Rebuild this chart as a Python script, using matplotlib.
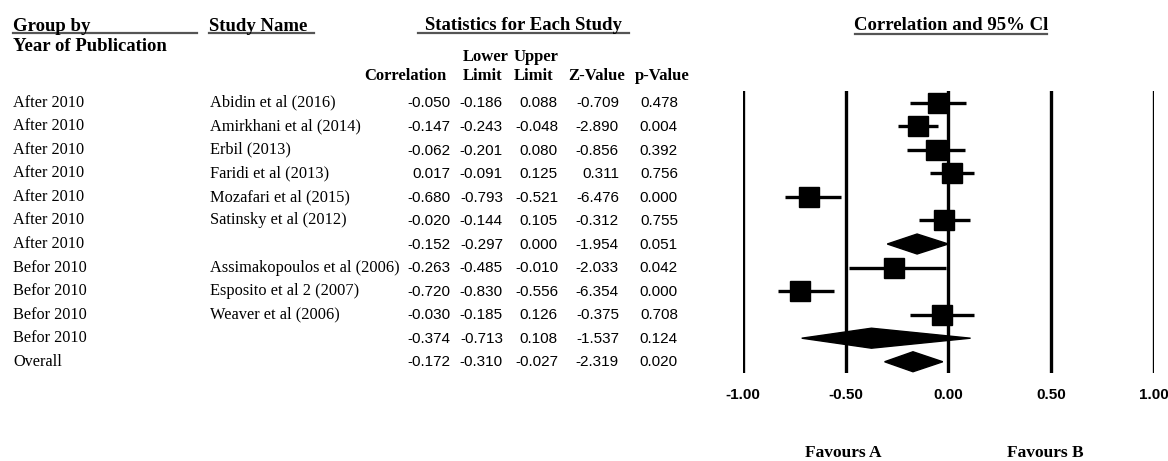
import matplotlib
matplotlib.use("Agg")
import matplotlib.pyplot as plt
import matplotlib.transforms as mtransforms
from matplotlib import font_manager

W, H = 1168, 461

groups = ["After 2010"] * 7 + ["Befor 2010"] * 4 + ["Overall"]
studies = ["Abidin et al (2016)", "Amirkhani et al (2014)", "Erbil (2013)",
           "Faridi et al (2013)", "Mozafari et al (2015)", "Satinsky et al (2012)", "",
           "Assimakopoulos et al (2006)", "Esposito et al 2 (2007)", "Weaver et al (2006)", "",
           ""]
corr = [-0.050, -0.147, -0.062, 0.017, -0.680, -0.020, -0.152,
        -0.263, -0.720, -0.030, -0.374, -0.172]
lower = [-0.186, -0.243, -0.201, -0.091, -0.793, -0.144, -0.297,
         -0.485, -0.830, -0.185, -0.713, -0.310]
upper = [0.088, -0.048, 0.080, 0.125, -0.521, 0.105, 0.000,
         -0.010, -0.556, 0.126, 0.108, -0.027]
zval = [-0.709, -2.890, -0.856, 0.311, -6.476, -0.312, -1.954,
        -2.033, -6.354, -0.375, -1.537, -2.319]
pval = [0.478, 0.004, 0.392, 0.756, 0.000, 0.755, 0.051,
        0.042, 0.000, 0.708, 0.124, 0.020]
xticks = [-1.0, -0.5, 0.0, 0.5, 1.0]

names = {f.name for f in font_manager.fontManager.ttflist}
SERIF = "Liberation Serif"
SANS = "Liberation Sans Narrow" if "Liberation Sans Narrow" in names else "Liberation Sans"


def fx(px):
    return px / W


def fy(py):
    return 1 - py / H


fig = plt.figure(figsize=(W / 100, H / 100), dpi=100)

# forest panel
row0, step = 102.7, 23.55
top_px, bot_px = 91, 373
ax = fig.add_axes([fx(742.7), fy(bot_px), (1154 - 742.7) / W, (bot_px - top_px) / H])
n = len(corr)
ax.set_xlim(-1, 1)
ax.set_ylim((bot_px - row0) / step, (top_px - row0) / step)
for s in ax.spines.values():
    s.set_visible(False)
ax.set_yticks([])
ax.set_xticks(xticks, ["%.2f" % t for t in xticks])
ax.tick_params(axis="x", length=0, pad=11)
for lab in ax.get_xticklabels():
    lab.set_fontfamily(SANS)
    lab.set_fontweight("bold")
    lab.set_fontsize(11)

for t in xticks:
    ax.axvline(t, color="black", lw=2.4, zorder=1)

dh = 10 / step
for i in range(n):
    if studies[i]:
        ax.hlines(i, lower[i], upper[i], color="black", lw=2.4, zorder=2)
        ax.plot(corr[i], i, "s", ms=14, color="black", zorder=3)
    else:
        ax.fill([lower[i], corr[i], upper[i], corr[i]], [i, i - dh, i, i + dh],
                color="black", zorder=3)

# table text
tr = mtransforms.blended_transform_factory(fig.transFigure, ax.transData)
for i in range(n):
    fig.text(fx(13), i, groups[i], transform=tr, family=SERIF, fontsize=11.7, va="center")
    fig.text(fx(209.5), i, studies[i], transform=tr, family=SERIF, fontsize=11.8, va="center")
    cols = [(450, corr[i]), (503, lower[i]), (558, upper[i]), (619, zval[i]), (678, pval[i])]
    for xr, v in cols:
        fig.text(fx(xr), i + 0.03, "%.3f" % v, transform=tr, family=SANS, fontsize=11,
                 ha="right", va="center")

# headers
hdr = dict(family=SERIF, fontweight="bold", va="baseline")
fig.text(fx(13), fy(31), "Group by", fontsize=13.5, **hdr)
fig.text(fx(13), fy(50.5), "Year of Publication", fontsize=13.5, **hdr)
fig.text(fx(209), fy(31), "Study Name", fontsize=13.5, **hdr)
fig.text(fx(523.5), fy(30.5), "Statistics for Each Study", fontsize=13.5, ha="center", **hdr)
fig.text(fx(951), fy(30.5), "Correlation and 95% Cl", fontsize=13.5, ha="center", **hdr)

fig.text(fx(463), fy(61), "Lower", fontsize=12, **hdr)
fig.text(fx(514), fy(61), "Upper", fontsize=12, **hdr)
fig.text(fx(364), fy(79.5), "Correlation", fontsize=12, **hdr)
fig.text(fx(463), fy(79.5), "Limit", fontsize=12, **hdr)
fig.text(fx(514), fy(79.5), "Limit", fontsize=12, **hdr)
fig.text(fx(568), fy(79.5), "Z-Value", fontsize=12, **hdr)
fig.text(fx(635), fy(79.5), "p-Value", fontsize=12, **hdr)

fig.text(fx(843), fy(457), "Favours A", fontsize=12.5, ha="center", **hdr)
fig.text(fx(1045), fy(457), "Favours B", fontsize=12.5, ha="center", **hdr)

# underlines
for x0, x1, yy in [(13, 197, 33.5), (209, 314, 33.5), (418, 629, 33.5), (855, 1047, 34.5)]:
    fig.add_artist(plt.Line2D([fx(x0), fx(x1)], [fy(yy), fy(yy)], color="#555555", lw=1.6,
                              transform=fig.transFigure))

fig.savefig("out.png", dpi=100, facecolor="white")
